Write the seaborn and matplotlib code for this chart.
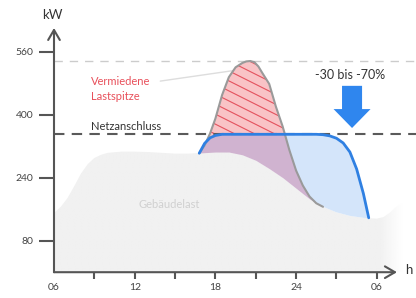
import numpy as np
import pandas as pd
import matplotlib
matplotlib.use("Agg")
import matplotlib.pyplot as plt
import seaborn as sns
from matplotlib.patches import FancyArrow, Polygon
from matplotlib.colors import to_rgb

# ---------------- data ----------------
building_hours = [6, 6.5, 7, 7.5, 8, 8.5, 9, 9.5, 10, 11, 12, 13, 14, 15, 16, 17, 18, 19,
                  20, 21, 22, 23, 24, 25, 26, 27, 28, 29, 30, 30.5, 31, 31.5, 32]
building_kw = [150, 166, 188, 218, 250, 274, 290, 298, 303, 306, 306, 305, 303, 301, 301, 303, 305, 305,
               298, 284, 263, 240, 213, 186, 166, 152, 143, 138, 136, 140, 152, 168, 178]

original_hours = [16.8, 17.2, 17.6, 18, 18.5, 19, 19.5, 20, 20.3, 20.6, 20.9, 21.2, 21.5, 22,
                  22.5, 23, 23.5, 24, 24.5, 25, 25.5, 26]
original_kw = [302, 322, 352, 390, 450, 495, 520, 531, 535, 536, 533, 522, 505, 478,
               420, 370, 310, 258, 220, 192, 175, 166]

storage_hours = [16.8, 17.2, 17.6, 18, 18.5, 19, 20, 21, 22, 23, 24, 25, 25.5, 26, 26.5,
                 27, 27.5, 28, 28.5, 29, 29.4]
storage_kw = [302, 327, 341, 347, 350, 350, 350, 350, 350, 350, 350, 350, 350, 349, 346,
              340, 328, 305, 262, 200, 138]

grid_limit_kw = 350
avoided_peak_kw = 536
ytick_values = [80, 240, 400, 560]
xtick_major = [9, 12, 15, 18, 21, 24, 27, 30]
xtick_major_labels = ["", "12", "", "18", "", "24", "", "06"]

# ---------------- style ----------------
sns.set_style("white")
plt.rcParams["font.family"] = ["Lato", "DejaVu Sans"]

W, H = 416, 298
fig = plt.figure(figsize=(W / 100, H / 100), dpi=100)
px_per_h = 13.45
x0_px, y0_px, ytop_px = 54, 272.2, 25
ax = fig.add_axes([x0_px / W, (H - y0_px) / H, (W - x0_px) / W, (y0_px - ytop_px) / H])
xmax = 6 + (W - x0_px) / px_per_h
ymax = (y0_px - ytop_px) / 0.394

hb = np.array(building_hours, float); bk = np.array(building_kw, float)
ho = np.array(original_hours, float); ok = np.array(original_kw, float)
hs = np.array(storage_hours, float); sk = np.array(storage_kw, float)

GRAY = "#f1f1f1"
# building load with fading right edge
grad_x = np.linspace(6, 32, 400)
alpha = np.clip((31.9 - grad_x) / (31.9 - 30.2), 0, 1)
rgba = np.zeros((1, grad_x.size, 4))
rgba[..., :3] = to_rgb(GRAY)
rgba[..., 3] = alpha
im = ax.imshow(rgba, extent=[6, 32, 0, ymax], aspect="auto", origin="lower",
               zorder=1, interpolation="bilinear")
bpoly = ax.fill_between(hb, 0, bk, color="none", lw=0)
im.set_clip_path(bpoly.get_paths()[0], ax.transData)

# common grid for fills
g = np.linspace(16.8, 29.4, 800)
b_g = np.interp(g, hb, bk)
o_g = np.where(g <= ho[-1], np.interp(g, ho, ok), b_g)
o_g = np.maximum(o_g, b_g)
s_g = np.interp(g, hs, sk)

ax.fill_between(g, b_g, np.minimum(o_g, s_g), color="#d0b3d0", lw=0, zorder=2)
ax.fill_between(g, np.maximum(o_g, b_g), s_g, where=s_g > o_g, color="#d4e5fa",
                lw=0, zorder=2, interpolate=True)
ax.fill_between(g, s_g, o_g, where=o_g > s_g, color="#f9c3c6", lw=0, zorder=2,
                interpolate=True)

ax.set_xlim(6, xmax)
ax.set_ylim(0, ymax)

# diagonal hatch lines clipped to the red area
mask = o_g > s_g
verts = np.vstack([np.column_stack([g[mask], o_g[mask]]),
                   np.column_stack([g[mask][::-1], s_g[mask][::-1]])])
clip_patch = Polygon(verts, closed=True, facecolor="none", edgecolor="none",
                     transform=ax.transData)
ax.add_patch(clip_patch)
slope = -17.1
hx = np.array([15.0, 26.0])
for c in np.arange(300, 1000, 25.4):
    ln, = ax.plot(hx, c + slope * (hx - 15), color="#e4525e", lw=0.8, zorder=2.5)
    ln.set_clip_path(clip_patch)

# reference lines
ax.axhline(avoided_peak_kw, color="#cccccc", lw=1, dashes=(6, 5), zorder=1.5)
ax.axhline(grid_limit_kw, color="#5a5a5a", lw=1.5, dashes=(5, 3.5), zorder=3.5)

# curves
sns.lineplot(x=ho, y=ok, ax=ax, color="#9a9a9a", lw=1.5, zorder=3)
sns.lineplot(x=hs, y=sk, ax=ax, color="#2f80e2", lw=2, zorder=4)

# axes arrows
ax.annotate("", xy=(31.5, 0), xytext=(6, 0), annotation_clip=False, zorder=6,
            arrowprops=dict(arrowstyle="->,head_length=0.6,head_width=0.35", color="#555555",
                            lw=1.5, shrinkA=0, shrinkB=0, mutation_scale=12))
ax.annotate("", xy=(6, 620), xytext=(6, 0), annotation_clip=False, zorder=6,
            arrowprops=dict(arrowstyle="->,head_length=0.6,head_width=0.35", color="#555555",
                            lw=1.5, shrinkA=0, shrinkB=0, mutation_scale=12))
for s in ax.spines.values():
    s.set_visible(False)

ax.set_yticks(ytick_values)
ax.set_yticklabels([str(v) for v in ytick_values])
ax.set_xticks(xtick_major)
ax.set_xticklabels(xtick_major_labels)
ax.set_xticks([6], minor=True)
ax.set_xticklabels(["06"], minor=True)
ax.tick_params(axis="y", direction="out", length=11, width=1.5, color="#555555",
               labelcolor="#444444", labelsize=7.5, pad=4, left=True)
ax.tick_params(axis="x", which="major", direction="out", length=5, width=1.5, color="#555555",
               labelcolor="#444444", labelsize=7.5, pad=3, bottom=True)
ax.tick_params(axis="x", which="minor", length=0, labelcolor="#444444", labelsize=7.5, pad=8,
               bottom=True)
ax.set_xlabel("")
ax.set_ylabel("")
ax.grid(False)

# annotations
ax.text(14.6, 173, "Gebäudelast", color="#d0d0d0", fontsize=8, ha="center", va="center", zorder=2)
ax.text(8.75, 483, "Vermiedene", color="#e8505b", fontsize=8, ha="left", va="center")
ax.text(8.75, 447, "Lastspitze", color="#e8505b", fontsize=8, ha="left", va="center")
ax.plot([13.9, 19.6], [485, 513], color="#dddddd", lw=1, zorder=1.6)
ax.text(8.75, 371, "Netzanschluss", color="#333333", fontsize=8, ha="left", va="center")
ax.text(28.0, 500, "-30 bis -70%", color="#333333", fontsize=9, ha="center", va="center")
ax.add_patch(FancyArrow(28.16, 473, 0, -107, width=1.49, head_width=2.75, head_length=48,
                        length_includes_head=True, color="#2f86ee", lw=0, zorder=5))

fig.text(52 / W, 1 - 15 / H, "kW", color="#333333", fontsize=9.5, ha="center", va="center")
fig.text(409 / W, 1 - 270 / H, "h", color="#333333", fontsize=9.5, ha="center", va="center")

fig.savefig("out.png", dpi=100)
